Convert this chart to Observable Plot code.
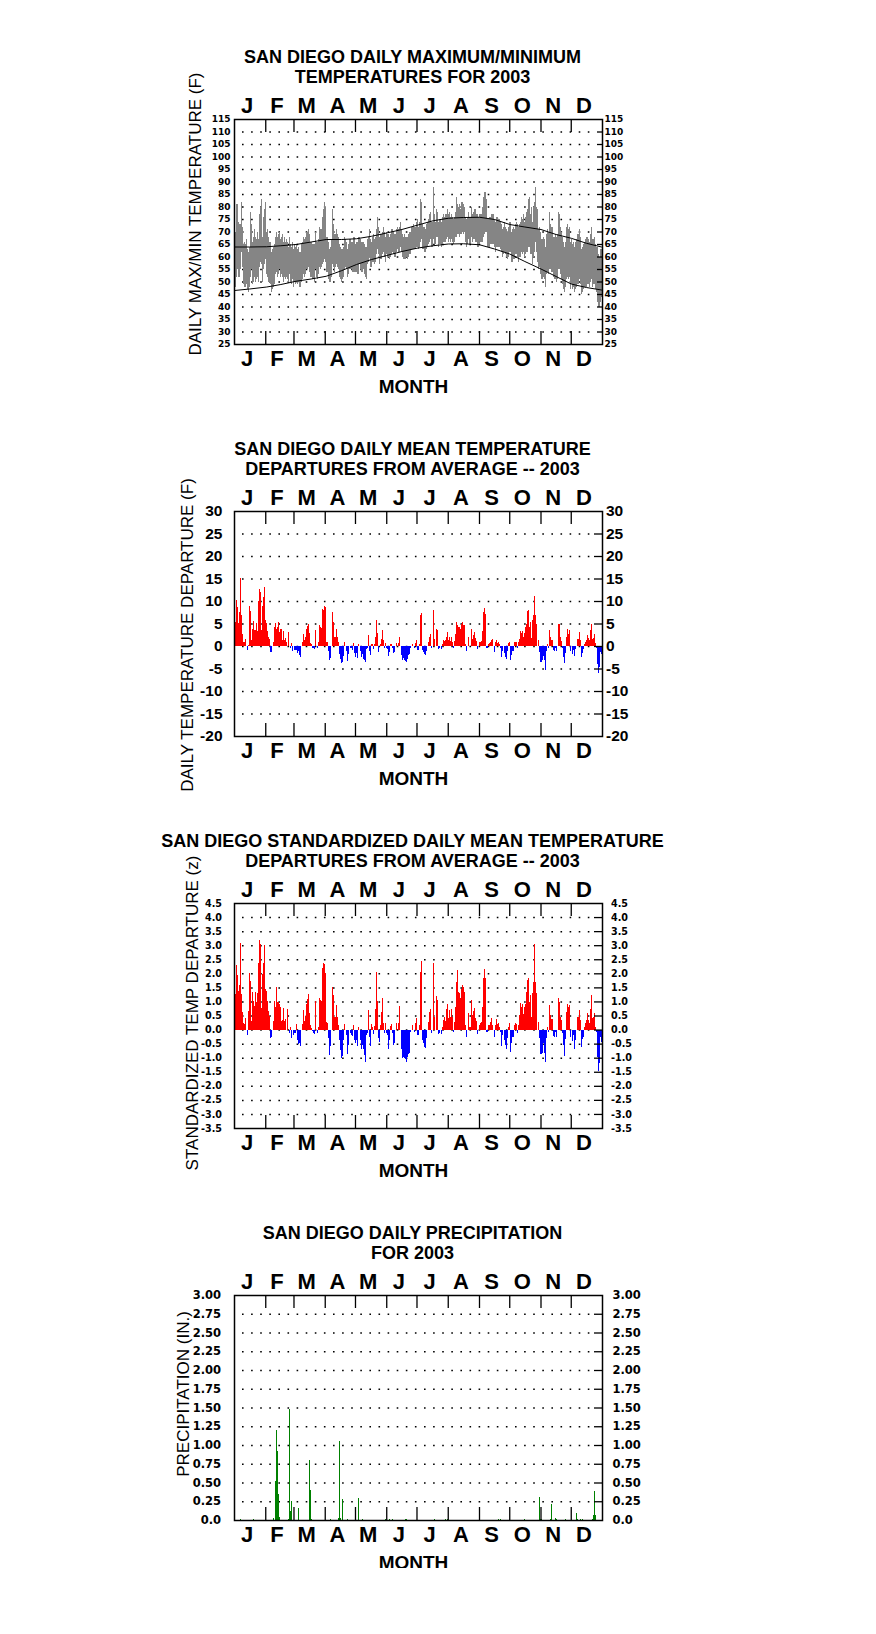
<!DOCTYPE html>
<html><head><meta charset="utf-8">
<script src="https://cdn.jsdelivr.net/npm/d3@7"></script>
<script src="https://cdn.jsdelivr.net/npm/@observablehq/plot@0.6"></script>
<style>
body{margin:0;background:#fff;}
#charts svg{display:block;overflow:visible;}
</style></head><body><div id="charts"></div>
<script>
// ---------- DATA ----------
const monthLetters = ["J","F","M","A","M","J","J","A","S","O","N","D"];
const monthStartDays = [0,31,59,90,120,151,181,212,243,273,304,334,365];

const tempTicks = [25,30,35,40,45,50,55,60,65,70,75,80,85,90,95,100,105,110,115];
const depTicks = [-20,-15,-10,-5,0,5,10,15,20,25,30];
const zTicks = [-3.5,-3,-2.5,-2,-1.5,-1,-0.5,0,0.5,1,1.5,2,2.5,3,3.5,4,4.5];
const precipTicks = [0,0.25,0.5,0.75,1,1.25,1.5,1.75,2,2.25,2.5,2.75,3];

// daily maximum temperature (F), day 0 = Jan 1
const dailyMax = [
66,70,81,74,68,73,82,72,65,66, 65,67,63,62,64,78,73,66,68,71,
68,67,70,67,77,80,83,68,76,79, 82,70,71,68,66,66,62,63,64,65,
68,70,68,69,70,67,68,69,66,68, 66,67,66,64,68,65,64,66,63,65,
64,65,63,64,62,62,65,66,68,67, 68,70,70,71,69,66,66,65,65,65,
70,66,66,67,72,71,71,76,79,82, 80,68,68,66,63,64,67,79,73,69,
69,71,69,68,65,64,63,63,64,68, 67,66,63,65,67,67,66,66,68,65,
65,66,65,68,67,66,65,66,65,64, 64,67,68,71,67,66,68,69,67,68,
71,76,72,68,69,69,70,72,70,68, 70,69,69,68,69,71,71,70,69,69,
71,72,71,72,74,71,69,68,69,68, 68,68,69,70,70,72,72,73,72,72,
74,75,72,74,83,82,73,72,72,71, 73,74,75,77,78,74,74,88,77,74,
79,78,74,75,75,74,76,77,76,77, 77,79,77,78,76,77,76,75,76,78,
84,81,80,81,79,82,82,81,80,76, 75,76,78,76,76,80,77,78,79,77,
77,75,76,77,77,77,80,84,86,83, 75,75,76,76,77,77,77,75,74,76,
76,75,75,74,73,71,72,74,72,71, 70,72,74,74,70,71,72,71,73,74,
73,72,73,74,76,75,77,74,76,78, 79,83,84,77,80,74,80,82,88,80,
79,71,72,70,67,67,68,67,64,69, 71,70,78,73,72,72,68,68,69,68,
69,78,77,72,70,68,66,64,66,72, 73,71,72,66,67,65,66,64,66,67,
69,69,71,68,63,64,65,66,67,68, 68,67,66,69,72,67,67,68,65,64,
61,58,60,63,62
];
// daily minimum temperature (F)
const dailyMin = [
48,52,55,56,52,55,62,56,49,48, 48,49,47,46,48,52,55,49,50,52,
50,51,52,50,56,58,57,50,55,57, 59,53,52,50,50,49,46,47,48,49,
53,54,52,53,55,52,53,52,50,52, 51,52,51,50,53,50,49,51,48,50,
49,50,49,50,48,48,50,51,53,52, 53,55,55,56,54,52,52,51,51,50,
55,52,51,53,56,55,56,57,58,59, 58,54,54,51,50,50,52,57,56,54,
56,57,56,55,52,51,50,51,52,55, 56,55,52,53,55,55,55,54,56,54,
54,55,53,57,57,55,54,55,53,52, 51,57,58,60,56,56,58,58,57,58,
61,63,61,57,59,59,61,62,60,58, 61,60,60,59,60,61,62,61,60,60,
62,63,62,62,64,62,60,59,59,59, 60,59,60,61,61,63,63,63,63,63,
64,64,63,64,66,67,63,63,62,62, 63,64,65,66,67,64,64,67,65,65,
68,68,64,65,65,64,65,66,66,66, 67,68,66,67,66,67,66,65,66,68,
68,69,69,68,69,69,70,69,70,66, 64,65,67,65,65,68,66,67,68,66,
66,64,65,66,66,66,68,69,70,70, 64,64,64,65,65,65,65,64,62,64,
64,64,64,63,62,60,61,62,61,60, 59,60,62,62,58,58,59,59,61,61,
60,58,60,60,62,61,62,60,61,62, 62,64,64,61,61,57,60,62,66,62,
58,55,56,53,51,51,52,51,48,53, 54,53,55,55,54,54,52,51,51,50,
51,55,55,53,51,49,47,46,48,51, 52,51,52,47,49,47,48,46,47,48,
49,49,51,49,45,46,47,48,48,48, 49,49,48,50,51,48,49,49,47,46,
42,40,42,45,44
];
// normal (average) max/min curves, sampled
const normalDays = [0,15,32,46,61,76,91,106,121,136,151,166,182,197,212,227,243,258,273,288,304,319,334,349,364];
const normalMax = [64,64,64.1,64.5,65,66,67,67,67.3,68.3,69.6,71,72.8,74.5,75.5,75.8,75.9,75,73,72,71,69,67.5,65.5,64];
const normalMin = [46.6,47.2,48,49,50.3,51.2,52.3,54.5,57,59,60.6,62.2,63.6,64.5,65.2,65.3,64.9,63.2,61.2,58.2,55.2,52.2,49.2,47.8,46.8];

// daily mean temperature departure (F)
const meanDeparture = [
2.0,5.3,10.3,8.6,5.2,7.5,15.1,6.8,2.6,1.0,
0.8,1.6,0,-0.8,0.2,8.8,7.8,1.3,3.8,5.5,
3.6,3.6,5.2,3.3,10.0,12.6,11.9,3.5,9.0,11.0,
13.2,5.7,5.1,3.3,2.0,1.6,-1.3,-1.3,0,0.9,
4.2,5.1,3.7,4.2,5.3,3.2,3.8,3.8,1.4,3.4,
1.4,1.8,1.0,0,3.2,0,-0.4,0.7,-1.1,0,
-0.8,-0.8,-1.6,-1.0,-1.9,-2.4,0,0.9,2.6,1.3,
2.0,3.8,4.4,5.0,2.9,0.7,0.5,-0.4,-0.5,-0.7,
3.6,0,-0.4,1.0,4.6,4.2,4.1,8.3,8.1,9.0,
8.6,1.0,1.0,-1.2,-3.2,-2.7,0,7.5,5.3,2.0,
2.0,3.7,2.0,0.9,-1.8,-2.8,-3.8,-3.6,-2.3,1.0,
0,-1.0,-3.4,-1.7,0,-0.5,-0.5,-0.8,0.7,-1.6,
-2.4,-1.6,-2.6,0.5,0,-1.0,-2.4,-1.8,-2.8,-3.2,
-3.5,-0.6,-0.4,2.4,-1.0,-2.1,0.5,0.5,-0.6,0.5,
2.1,5.8,2.9,-1.3,0,0.5,1.6,3.5,1.4,-0.5,
0.7,-0.4,-0.6,-2.2,-1.3,0.4,0.4,-0.4,-1.5,-1.3,
0,0.7,0,0.6,2.1,0,-2.1,-3.0,-2.6,-3.2,
-3.3,-3.5,-2.8,-2.1,-1.8,-0.4,0,0.5,0,-0.4,
0.7,1.3,-0.8,0.5,6.8,7.3,-0.8,-1.3,-1.8,-2.1,
-1.1,0,0.9,2.0,2.6,-0.4,0,7.9,1.5,0,
3.7,3.5,-0.6,-0.4,0,-0.6,0.5,1.3,1.1,1.4,
2.1,3.1,1.3,2.1,1.1,2.0,0.9,-0.5,1.1,2.6,
5.3,4.6,4.2,4.2,3.8,5.0,5.3,4.6,4.6,0.5,
-1.0,0,2.0,0.1,0.1,3.8,1.6,2.4,3.1,1.8,
1.1,-0.6,0,0.9,1.0,1.1,3.3,7.5,8.4,7.2,
-0.4,-0.4,0.5,0.7,1.0,1.3,1.5,0,-1.3,0.9,
1.4,0.7,0.9,0.5,-0.4,-2.4,-1.0,0,-1.6,-2.4,
-2.9,-1.0,0.7,0.9,-3.0,-2.1,-1.0,-1.1,0.9,1.0,
0.8,-0.5,0.9,1.6,3.3,2.9,3.3,2.0,3.0,4.2,
5.0,7.8,8.0,4.2,5.3,1.8,5.7,7.0,11.2,7.0,
5.0,0,1.3,-1.3,-3.5,-3.2,-2.2,-3.2,-5.4,-1.1,
0.4,-0.4,3.5,2.1,1.4,1.3,-0.8,-1.1,-0.4,-1.1,
0,4.8,4.8,2.0,1.1,-0.4,-2.4,-3.8,-1.6,2.1,
3.8,2.7,3.5,-1.1,0,-1.7,-0.8,-2.3,-0.6,0,
1.6,1.6,3.1,1.3,-2.4,-1.6,-0.6,0.5,0.9,1.4,
2.4,1.8,1.3,3.5,5.0,1.6,1.8,2.6,0.7,-0.4,
-4.0,-6.1,-4.6,-1.3,-1.7
];
// standardized daily mean temperature departure (z)
const standardizedDeparture = [
0.43,1.26,2.29,1.93,1.37,1.6,3.09,1.28,0.63,0.22,
0.2,0.4,0,-0.19,0.66,2.0,1.72,0.32,1.34,1.0,
0.83,1.34,0.98,1.3,2.35,3.17,3.03,0.75,1.96,2.38,
3.0,1.46,1.38,1.0,0.67,0.48,-0.29,-0.28,0,0.3,
1.0,0.8,1.5,0.98,0.98,0.9,0.8,0.32,0.34,0.77,
0.3,0.36,0,0.73,0,-0.13,0.1,-0.31,0,-0.19,
-0.13,0.19,-0.37,-0.52,-0.49,-0.58,0,0.2,0.7,0.32,
0.48,0.9,1.1,1.26,0.58,0.15,0.05,-0.05,-0.13,-0.16,
1.0,0,-0.11,0.1,1.13,1.05,1.0,2.19,2.35,2.32,
2.02,0.28,0.25,-0.29,-0.9,-0.6,0,1.52,1.22,0.43,
0.46,0.87,0.43,0.16,-0.37,-0.72,-1.02,-0.94,-0.37,0.19,
0,-0.19,-0.87,-0.55,0,-0.13,-0.19,-0.23,0.16,-0.37,
-0.49,-0.37,-0.6,0.1,0,-0.37,-0.69,-0.55,-0.7,-0.9,
-1.14,-0.19,-0.13,0.7,-0.25,-0.58,0.2,0.1,-0.16,0.13,
0.73,2.05,1.01,-0.29,-0.43,0.16,0.64,1.11,0.25,-0.13,
0.25,-0.13,-0.19,-0.7,-0.37,0.13,0.2,-0.11,-0.55,-0.49,
0,0.22,0,0.22,0.84,0,-0.7,-1.02,-0.96,-1.02,
-1.06,-1.14,-0.96,-0.87,-0.84,-0.07,0,0.16,0,-0.07,
0.22,0.4,-0.19,0.16,2.05,2.43,-0.37,-0.49,-0.61,-0.66,
-0.31,0,0.28,0.64,0.72,-0.13,0,2.37,0.46,0,
1.19,1.05,-0.16,-0.13,0,-0.16,0.1,0.34,0.43,0.32,
0.73,0.91,0.4,0.7,0.43,0.72,0.43,-0.07,0.28,0.79,
1.68,2.11,1.35,1.29,1.14,1.46,1.58,1.5,1.35,0.16,
-0.25,0,0.58,0.08,0.08,1.05,0.52,0.66,0.75,0.4,
0.32,-0.16,0,0.16,0.22,0.28,0.79,1.82,2.15,1.82,
-0.07,-0.07,0.16,0.16,0.28,0.4,0.16,0,-0.25,0.16,
0.36,0.19,0.22,0.1,-0.07,-0.58,-0.19,0,-0.37,-0.55,
-0.69,-0.31,0.1,0.22,-0.78,-0.49,-0.27,-0.27,0.16,0.22,
0.2,-0.11,0.16,0.52,0.93,0.79,0.91,0.55,0.79,0.91,
1.35,1.78,1.85,0.99,1.23,0.43,1.31,1.7,3.06,1.7,
1.29,0,0.28,-0.31,-0.87,-0.82,-0.49,-0.82,-1.17,-0.31,
0.08,-0.07,0.87,0.52,0.36,0.36,-0.23,-0.25,-0.07,-0.27,
0,1.11,0.99,0.43,0.34,-0.11,-0.55,-0.94,-0.35,0.64,
0.91,0.79,0.87,-0.27,0,-0.4,-0.19,-0.69,-0.37,0,
0.43,0.43,0.7,0.34,-0.63,-0.35,-0.25,0.1,0.22,0.34,
0.58,0.34,0.25,0.73,1.23,0.4,0.46,0.58,0.1,-0.07,
-0.96,-1.49,-1.2,-0.25,-0.43
];
// daily precipitation (in.), only days with rain
const precipDays =   [6,19,39,41,42,43,44,45,54,55,56,57,63,74,75,76,95,103,104,105,107,112,123,127,150,154,157,170,171,198,209,211,262,264,288,303,304,313,314,318,319,328,339,340,343,345,355,356,357,358];
const precipInches = [0.01,0.02,0.03,0.52,1.2,0.92,0.35,0.04,0.02,1.48,0.12,0.26,0.16,0.8,0.4,0.01,0.01,0.03,1.05,0.03,0.28,0.02,0.3,0.01,0.01,0.01,0.01,0.01,0.01,0.01,0.01,0.01,0.01,0.01,0.01,0.31,0.01,0.02,0.21,0.03,0.01,0.01,0.09,0.01,0.02,0.01,0.02,0.07,0.39,0.07];

// ---------- LAYOUT ----------
const W = 876, H = 392, MT = 119, MB = 48, ML = 234, MR = 274;
const PW = W - ML - MR, PH = H - MT - MB;
const SANS = "'Liberation Sans', Arial, sans-serif";
const monthMid = monthLetters.map((m, i) => ({m, x: (monthStartDays[i] + monthStartDays[i + 1]) / 2}));

function panel(o) {
  const inner = o.ticks.filter(t => t > o.yDomain[0] && t < o.yDomain[1]);
  const tickText = {fontFamily: o.tickFont, fontSize: o.tickSize, fontWeight: "bold", fill: "black"};
  return Plot.plot({
    width: W, height: H, marginTop: MT, marginBottom: MB, marginLeft: ML, marginRight: MR,
    x: {domain: [0, 365], axis: null},
    y: {domain: o.yDomain, axis: null},
    style: {fontFamily: SANS, color: "black", overflow: "visible", background: "transparent"},
    marks: [
      Plot.ruleY(inner, {insetLeft: 8, insetRight: 10, stroke: "black", strokeWidth: 1.5, strokeDasharray: "1.6,7.5"}),
      ...o.marks,
      Plot.ruleY(inner, {insetLeft: PW - o.rightTick, stroke: "black", strokeWidth: 1.3}),
      Plot.ruleX(monthStartDays.slice(1, -1), {insetBottom: PH - 13, stroke: "black", strokeWidth: 1.3}),
      Plot.ruleX(monthStartDays.slice(1, -1), {insetTop: PH - 13, stroke: "black", strokeWidth: 1.3}),
      Plot.frame({stroke: "black", strokeWidth: 1.5}),
      Plot.axisY(o.ticks, {anchor: "left", tickSize: 0, tickPadding: o.padL, tickFormat: o.fmt, label: null, ...tickText}),
      Plot.axisY(o.ticks, {anchor: "right", tickSize: 0, tickPadding: o.padR, tickFormat: o.fmt, label: null, ...tickText}),
      Plot.text(monthMid, {x: "x", text: "m", frameAnchor: "top", dy: -14, dx: -3, lineAnchor: "middle", fontSize: 22, fontWeight: "bold"}),
      Plot.text(monthMid, {x: "x", text: "m", frameAnchor: "bottom", dy: 14, dx: -3, lineAnchor: "middle", fontSize: 22, fontWeight: "bold"}),
      Plot.text([o.title[0]], {text: d => d, frameAnchor: "top", dy: -62, dx: -6, lineAnchor: "middle", fontSize: 18, fontWeight: "bold"}),
      Plot.text([o.title[1]], {text: d => d, frameAnchor: "top", dy: -42, dx: -6, lineAnchor: "middle", fontSize: 18, fontWeight: "bold"}),
      Plot.text(["MONTH"], {text: d => d, frameAnchor: "bottom", dy: 42, dx: -5, lineAnchor: "middle", fontSize: 19, fontWeight: "bold"}),
      Plot.text([o.ylabel], {text: d => d, frameAnchor: "left", textAnchor: "middle", rotate: -90, dx: o.ylDx, dy: o.ylDy, lineAnchor: "middle", fontSize: 17})
    ]
  });
}

const tempRows = dailyMax.map((v, i) => ({d: i, max: v, min: dailyMin[i]}));
const normalRows = normalDays.map((d, i) => ({d, max: normalMax[i], min: normalMin[i]}));
const depRows = meanDeparture.map((v, i) => ({d: i, v}));
const zRows = standardizedDeparture.map((v, i) => ({d: i, v}));
const precipRows = precipDays.map((d, i) => ({d, v: precipInches[i]}));

function posNegBars(rows) {
  return [
    Plot.rectY(rows.filter(r => r.v > 0), {x1: "d", x2: r => r.d + 1, y: "v", fill: "#ff0000", shapeRendering: "crispEdges"}),
    Plot.rectY(rows.filter(r => r.v < 0), {x1: "d", x2: r => r.d + 1, y: "v", fill: "#0000ff", shapeRendering: "crispEdges"})
  ];
}

const root = document.getElementById("charts");

root.append(panel({
  title: ["SAN DIEGO DAILY MAXIMUM/MINIMUM", "TEMPERATURES FOR 2003"],
  ylabel: "DAILY MAX/MIN TEMPERATURE (F)", ylDx: -39, ylDy: -18,
  yDomain: [25, 115], ticks: tempTicks, fmt: d => String(d),
  tickFont: "'DejaVu Sans', sans-serif", tickSize: 9, padL: 4, padR: 2, rightTick: 5,
  marks: [
    Plot.ruleX(tempRows, {x: r => r.d + 0.5, y1: "min", y2: "max", stroke: "#858585", strokeWidth: 1.1, shapeRendering: "crispEdges"}),
    Plot.line(normalRows, {x: "d", y: "max", stroke: "black", strokeWidth: 1}),
    Plot.line(normalRows, {x: "d", y: "min", stroke: "black", strokeWidth: 1})
  ]
}));

root.append(panel({
  title: ["SAN DIEGO DAILY MEAN TEMPERATURE", "DEPARTURES FROM AVERAGE -- 2003"],
  ylabel: "DAILY TEMPERATURE DEPARTURE (F)", ylDx: -47, ylDy: 11,
  yDomain: [-20, 30], ticks: depTicks, fmt: d => String(d),
  tickFont: SANS, tickSize: 15.5, padL: 12, padR: 3.5, rightTick: 8,
  marks: posNegBars(depRows)
}));

root.append(panel({
  title: ["SAN DIEGO STANDARDIZED DAILY MEAN TEMPERATURE", "DEPARTURES FROM AVERAGE -- 2003"],
  ylabel: "STANDARDIZED TEMP DEPARTURE (z)", ylDx: -42, ylDy: -3,
  yDomain: [-3.5, 4.5], ticks: zTicks, fmt: d => d.toFixed(1),
  tickFont: "'DejaVu Sans', sans-serif", tickSize: 9.6, padL: 12.5, padR: 8.5, rightTick: 8,
  marks: posNegBars(zRows)
}));

root.append(panel({
  title: ["SAN DIEGO DAILY PRECIPITATION", "FOR 2003"],
  ylabel: "PRECIPITATION (IN.)", ylDx: -51, ylDy: -14,
  yDomain: [0, 3], ticks: precipTicks, fmt: d => d === 0 ? "0.0" : d.toFixed(2),
  tickFont: "'DejaVu Sans', sans-serif", tickSize: 11.5, padL: 13.5, padR: 10, rightTick: 8,
  marks: [
    Plot.rectY(precipRows, {x1: "d", x2: r => r.d + 1, y: "v", fill: "#008000", shapeRendering: "crispEdges"})
  ]
}));
</script>
</body></html>
